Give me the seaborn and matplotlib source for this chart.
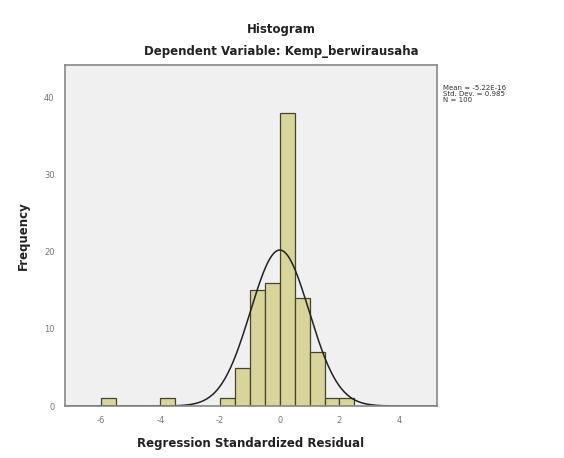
import numpy as np
import seaborn as sns
import matplotlib.pyplot as plt

# histogram of standardized residuals
bin_edges = [-6.0, -5.5, -5.0, -4.5, -4.0, -3.5, -3.0, -2.5, -2.0, -1.5,
             -1.0, -0.5, 0.0, 0.5, 1.0, 1.5, 2.0, 2.5]
bin_counts = [1, 0, 0, 0, 1, 0, 0, 0, 1, 5, 15, 16, 38, 14, 7, 1, 1]
x_ticks = [-6, -4, -2, 0, 2, 4]
y_ticks = [0, 10, 20, 30, 40]

resid_mean = -5.22e-16
resid_sd = 0.985
n_obs = 100

sns.set_style("white")
plt.rcParams['font.family'] = ['DejaVu Sans']
plt.rcParams['axes.unicode_minus'] = False

fig = plt.figure(figsize=(5.64, 4.58), dpi=100)
ax = fig.add_axes([0.115, 0.1135, 0.66, 0.745])
ax.set_facecolor('#f0f0f0')

centers = [(a + b) / 2 for a, b in zip(bin_edges[:-1], bin_edges[1:])]
sns.histplot(x=centers, weights=bin_counts, bins=bin_edges, ax=ax,
             color='#d9d49a', edgecolor='#45442e', linewidth=0.9, alpha=1)

# fitted normal curve, scaled to counts
bw = bin_edges[1] - bin_edges[0]
xs = np.linspace(-7.2, 5.3, 400)
ys = n_obs * bw * np.exp(-0.5 * ((xs - resid_mean) / resid_sd) ** 2) / (resid_sd * np.sqrt(2 * np.pi))
sns.lineplot(x=xs, y=ys, ax=ax, color='#222222', linewidth=1.1)

ax.set_xlim(-7.2, 5.27)
ax.set_ylim(0, 44.3)
ax.set_xticks(x_ticks)
ax.set_yticks(y_ticks)
ax.tick_params(axis='both', direction='out', length=4, width=1,
               colors='#777777', labelsize=6, labelcolor='#777777')
for sp in ax.spines.values():
    sp.set_color('#888888')
    sp.set_linewidth(1.2)

ax.set_xlabel("Regression Standardized Residual", fontsize=8.5,
              fontweight='bold', color='#222222', labelpad=8)
ax.set_ylabel("Frequency", fontsize=8.5, fontweight='bold',
              color='#222222', labelpad=10)

fig.text(281 / 564, 1 - 30 / 458, "Histogram", ha='center', va='center',
         fontsize=8.5, fontweight='bold', color='#222222')
fig.text(281 / 564, 1 - 52 / 458, "Dependent Variable: Kemp_berwirausaha",
         ha='center', va='center', fontsize=8.5, fontweight='bold', color='#222222')

stats = "Mean = -5.22E-16\nStd. Dev. = 0.985\nN = 100"
fig.text(443 / 564, 1 - 85 / 458, stats, ha='left', va='top', fontsize=5,
         color='#333333', linespacing=1.0)

fig.savefig("out.png", dpi=100, facecolor='white')
